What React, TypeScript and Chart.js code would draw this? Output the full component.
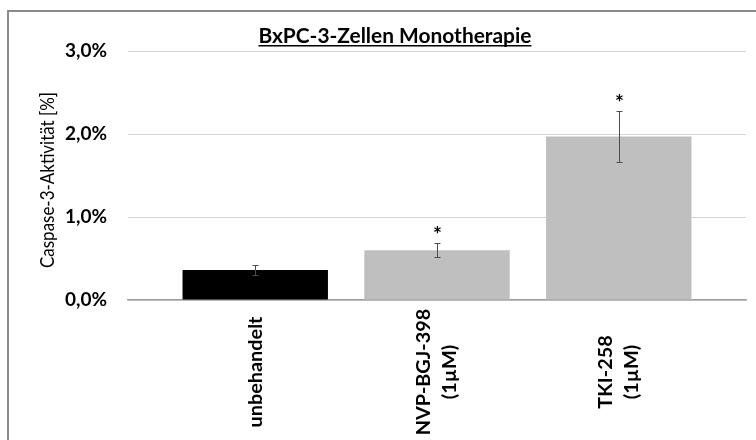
import React, { useEffect, useRef } from "react";
import { Chart, registerables } from "chart.js";

Chart.register(...registerables);

const title = "BxPC-3-Zellen Monotherapie";
const yTitle = "Caspase-3-Aktivität [%]";
const categories: string[][] = [["unbehandelt"], ["NVP-BGJ-398", "(1µM)"], ["TKI-258", "(1µM)"]];
const values = [0.36, 0.6, 1.97];
const errors = [0.06, 0.085, 0.31];
const significance = ["", "*", "*"];
const barColors = ["#000000", "#bfbfbf", "#bfbfbf"];
const yTicks = [0, 1, 2, 3];
const xTicks = [0, 1, 2];

const FONT = "Lato, 'Open Sans', sans-serif";

function fitFont(ctx: CanvasRenderingContext2D, text: string, target: number, weight: string) {
  ctx.font = `${weight} 20px ${FONT}`;
  const w = ctx.measureText(text).width;
  const size = (20 * target) / w;
  ctx.font = `${weight} ${size}px ${FONT}`;
  return size;
}

const decorPlugin = {
  id: "decor",
  afterDatasetsDraw(chart: any) {
    const ctx = chart.ctx as CanvasRenderingContext2D;
    const x = chart.scales.x;
    const y = chart.scales.y;
    ctx.save();
    ctx.strokeStyle = "#4d4d4d";
    ctx.lineWidth = 1;
    values.forEach((v, i) => {
      const px = Math.round(x.getPixelForValue(i)) + 0.5;
      const top = Math.round(y.getPixelForValue(v + errors[i])) + 0.5;
      const bot = Math.round(y.getPixelForValue(Math.max(0, v - errors[i]))) + 0.5;
      ctx.beginPath();
      ctx.moveTo(px, top);
      ctx.lineTo(px, bot);
      ctx.moveTo(px - 3, top);
      ctx.lineTo(px + 3, top);
      ctx.moveTo(px - 3, bot);
      ctx.lineTo(px + 3, bot);
      ctx.stroke();
      if (significance[i]) {
        ctx.fillStyle = "#000";
        ctx.font = `bold 21px ${FONT}`;
        ctx.textAlign = "center";
        ctx.textBaseline = "alphabetic";
        ctx.fillText(significance[i], px, top - 2);
      }
    });
    ctx.restore();
  },
  afterDraw(chart: any) {
    const ctx = chart.ctx as CanvasRenderingContext2D;
    const x = chart.scales.x;
    ctx.save();
    // outer frame
    ctx.strokeStyle = "#8a8a8a";
    ctx.lineWidth = 2;
    ctx.beginPath();
    ctx.moveTo(8, 442);
    ctx.lineTo(8, 11);
    ctx.lineTo(760, 11);
    ctx.stroke();
    // title
    ctx.fillStyle = "#000";
    fitFont(ctx, title, 273, "bold");
    ctx.textAlign = "center";
    ctx.textBaseline = "alphabetic";
    const tx = 395;
    ctx.fillText(title, tx, 43);
    const w = ctx.measureText(title).width;
    ctx.fillRect(tx - w / 2, 45, w, 1.5);
    // y title (Calibri-like proportions: keep height, condense width)
    ctx.save();
    ctx.translate(48, 180);
    ctx.rotate(-Math.PI / 2);
    ctx.font = `19px ${FONT}`;
    const yw = ctx.measureText(yTitle).width;
    ctx.scale(176 / yw, 1);
    ctx.textAlign = "center";
    ctx.textBaseline = "middle";
    ctx.fillText(yTitle, 0, 0);
    ctx.restore();
    // x labels
    fitFont(ctx, "unbehandelt", 111, "bold");
    const lh = 26;
    categories.forEach((lines, i) => {
      const px = x.getPixelForValue(i);
      ctx.save();
      ctx.translate(px, 372);
      ctx.rotate(-Math.PI / 2);
      ctx.textAlign = "center";
      ctx.textBaseline = "middle";
      lines.forEach((ln, j) => {
        const off = (j - (lines.length - 1) / 2) * lh;
        ctx.fillText(ln, 0, off);
      });
      ctx.restore();
    });
    ctx.restore();
  },
};

export default function App() {
  const ref = useRef<HTMLCanvasElement>(null);
  useEffect(() => {
    document.body.style.margin = "0";
    const chart = new Chart(ref.current!, {
      type: "bar",
      data: {
        datasets: [
          {
            data: values.map((v, i) => ({ x: i, y: v })),
            backgroundColor: barColors,
            borderWidth: 0,
            barPercentage: 0.8,
            categoryPercentage: 1,
          },
        ],
      },
      options: {
        animation: false,
        responsive: false,
        events: [],
        layout: { padding: { top: 51, right: 10, left: 0, bottom: 0 } },
        plugins: { legend: { display: false }, tooltip: { enabled: false }, title: { display: false } },
        scales: {
          x: {
            type: "linear",
            min: -0.7,
            max: 2.7,
            offset: false,
            afterBuildTicks: (s: any) => {
              s.ticks = xTicks.map((v) => ({ value: v }));
            },
            grid: { display: false, drawTicks: false, offset: false },
            border: { display: true, color: "#a0a0a0", width: 1.5 },
            ticks: { display: false },
            afterFit: (s: any) => {
              s.height = 140;
            },
          },
          y: {
            min: 0,
            max: 3,
            afterBuildTicks: (s: any) => {
              s.ticks = yTicks.map((v) => ({ value: v }));
            },
            grid: { color: "#d4d4d4", lineWidth: 1, drawTicks: false },
            border: { display: false },
            ticks: {
              padding: 21,
              color: "#000",
              font: { family: FONT, size: 19, weight: "bold" },
              callback: (v: any) => `${Number(v).toFixed(1).replace(".", ",")}%`,
            },
            afterFit: (s: any) => {
              s.width = 128;
            },
          },
        },
      },
      plugins: [decorPlugin],
    });
    return () => chart.destroy();
  }, []);
  return <canvas ref={ref} width={756} height={440} style={{ display: "block" }} />;
}
